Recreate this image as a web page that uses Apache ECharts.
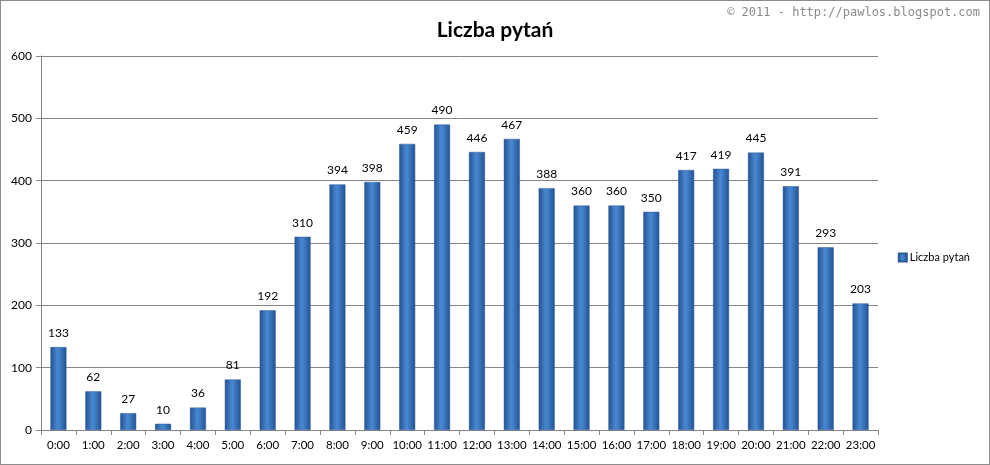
<!DOCTYPE html>
<html>
<head>
<meta charset="utf-8">
<script src="https://cdn.jsdelivr.net/npm/echarts@6/dist/echarts.min.js"></script>
<style>
    html, body { margin: 0; padding: 0; background: #fff; }
    #chart { width: 988px; height: 463px; border: 1px solid #8c8c8c; }
</style>
</head>
<body>
<div id="chart"></div>
<script>
    var hours = ['0:00','1:00','2:00','3:00','4:00','5:00','6:00','7:00','8:00','9:00','10:00','11:00',
                 '12:00','13:00','14:00','15:00','16:00','17:00','18:00','19:00','20:00','21:00','22:00','23:00'];
    var questions = [133, 62, 27, 10, 36, 81, 192, 310, 394, 398, 459, 490,
                     446, 467, 388, 360, 360, 350, 417, 419, 445, 391, 293, 203];
    var seriesName = 'Liczba pytań';

    var font = 'Lato, "Open Sans", sans-serif';
    var barColor = new echarts.graphic.LinearGradient(0, 0, 1, 0, [
        { offset: 0, color: '#24528f' },
        { offset: 0.45, color: '#4a88d2' },
        { offset: 0.6, color: '#3f7cc6' },
        { offset: 1, color: '#24528f' }
    ]);

    var myChart = echarts.init(document.getElementById('chart'));
    var option = {
        animation: false,
        textStyle: { fontFamily: font },
        title: [
            {
                text: seriesName,
                left: 'center',
                top: 14,
                textStyle: { fontSize: 21, fontWeight: 'bold', color: '#000', fontFamily: font }
            },
            {
                text: '© 2011 - http://pawlos.blogspot.com',
                right: 4,
                top: 1,
                textStyle: { fontSize: 12, fontWeight: 'normal', color: '#8a8a8a', fontFamily: '"DejaVu Sans Mono", monospace' }
            }
        ],
        legend: {
            data: [seriesName],
            right: 14,
            top: 246,
            orient: 'vertical',
            itemWidth: 8,
            itemHeight: 8,
            itemGap: 4,
            icon: 'rect',
            textStyle: { fontSize: 11, color: '#000', fontFamily: font, padding: [0, 0, 0, -2] }
        },
        grid: {
            left: 40,
            right: 111,
            top: 55,
            bottom: 34
        },
        xAxis: {
            type: 'category',
            data: hours,
            axisLine: { lineStyle: { color: '#868686' } },
            axisTick: { show: true, interval: 0, length: 5, lineStyle: { color: '#868686' } },
            axisLabel: { color: '#000', fontSize: 11.5, margin: 9, interval: 0 }
        },
        yAxis: {
            type: 'value',
            min: 0,
            max: 600,
            interval: 100,
            axisLine: { show: true, lineStyle: { color: '#868686' } },
            axisTick: { show: true, length: 5, lineStyle: { color: '#868686' } },
            axisLabel: { color: '#000', fontSize: 12, margin: 9 },
            splitLine: { lineStyle: { color: '#868686' } }
        },
        series: [
            {
                name: seriesName,
                type: 'bar',
                data: questions,
                barWidth: 16,
                itemStyle: {
                    color: barColor,
                    borderColor: '#2a5a9a',
                    borderWidth: 0.5
                },
                label: {
                    show: true,
                    position: 'top',
                    distance: 8,
                    color: '#000',
                    fontSize: 12,
                    fontFamily: font
                }
            }
        ]
    };
    myChart.setOption(option);
</script>
</body>
</html>
